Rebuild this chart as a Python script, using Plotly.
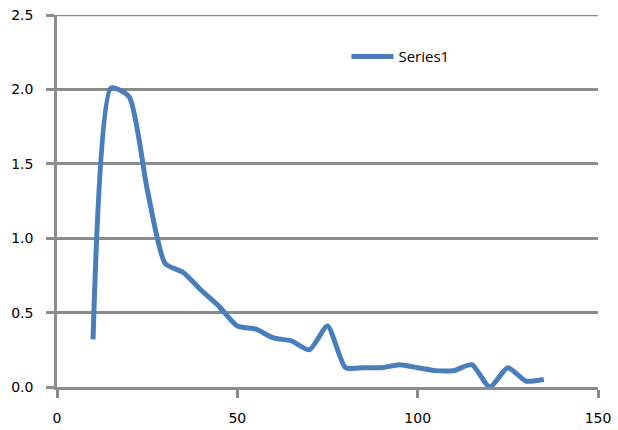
import plotly.graph_objects as go

# Sampled values of the series
x_vals = [10, 15, 20, 25, 30, 35, 40, 45, 50, 55, 60, 65, 70, 75, 80,
          85, 90, 95, 100, 105, 110, 115, 120, 125, 130, 135]
y_vals = [0.32, 2.01, 1.95, 1.33, 0.83, 0.77, 0.65, 0.54, 0.41, 0.39, 0.33, 0.31, 0.25, 0.41, 0.13,
          0.13, 0.13, 0.15, 0.13, 0.11, 0.11, 0.15, 0.0, 0.13, 0.04, 0.05]

x_ticks = [0, 50, 100, 150]
y_ticks = [0.0, 0.5, 1.0, 1.5, 2.0, 2.5]

GRID = "#8c8c8c"

fig = go.Figure()
fig.add_trace(go.Scatter(
    x=x_vals, y=y_vals, mode="lines", name="Series1",
    line=dict(color="#4a7ebb", width=5, shape="spline", smoothing=0.6),
))

# gridline at the top of the value range, running out over the tick
fig.add_shape(type="line", xref="paper", yref="y", x0=-0.015, x1=1,
              y0=y_ticks[-1], y1=y_ticks[-1],
              line=dict(color=GRID, width=2.5), layer="below")

fig.update_layout(
    width=618, height=430,
    margin=dict(l=57, r=20, t=15, b=43),
    paper_bgcolor="white", plot_bgcolor="white",
    font=dict(family="DejaVu Sans", size=14, color="black"),
    showlegend=True,
    legend=dict(x=0.535, y=0.888, xanchor="left", yanchor="middle",
                itemwidth=42,
                font=dict(family="Open Sans", size=15, color="black"),
                bgcolor="rgba(0,0,0,0)"),
)
fig.update_xaxes(
    range=[0, 150], tickvals=x_ticks, ticktext=[f"{v:g}" for v in x_ticks],
    showgrid=False, zeroline=False, showline=True, linecolor=GRID, linewidth=2.5,
    ticks="outside", ticklen=8, tickwidth=2.5, tickcolor=GRID,
    ticklabelstandoff=8, automargin=False,
)
fig.update_yaxes(
    range=[0, 2.5], tickvals=y_ticks, ticktext=[f"{v:.1f}" for v in y_ticks],
    showgrid=True, gridcolor=GRID, gridwidth=2.5,
    zeroline=False, showline=True, linecolor=GRID, linewidth=2.5,
    ticks="outside", ticklen=8, tickwidth=2.5, tickcolor=GRID,
    ticklabelstandoff=10, automargin=False,
)

fig.write_html("out.html")
